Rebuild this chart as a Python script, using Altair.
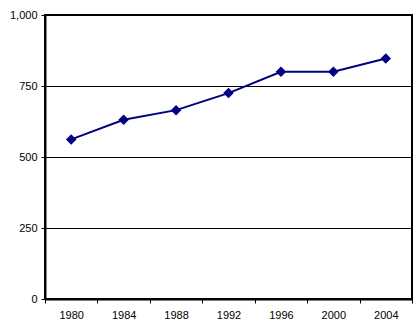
import altair as alt
import pandas as pd

years = ["1980", "1984", "1988", "1992", "1996", "2000", "2004"]
values = [562, 631, 665, 725, 800, 800, 847]

df = pd.DataFrame({"year": years, "value": values})

FONT = "Liberation Sans"

x = alt.X(
    "year:O",
    sort=years,
    bandPosition=0.5,
    scale=alt.Scale(type="band", paddingInner=0, paddingOuter=0),
    axis=alt.Axis(
        title=None,
        labelAngle=0,
        tickBand="extent",
        domainColor="black",
        domainWidth=2,
        tickColor="black",
        tickSize=4,
        tickWidth=1,
        labelColor="black",
        labelFont=FONT,
        labelFontSize=11,
        labelPadding=6,
        grid=False,
    ),
)
y = alt.Y(
    "value:Q",
    scale=alt.Scale(domain=[0, 1000], nice=False, zero=True),
    axis=alt.Axis(
        title=None,
        values=[0, 250, 500, 750, 1000],
        format=",.0f",
        domainColor="black",
        domainWidth=2,
        tickColor="black",
        tickSize=4,
        tickWidth=1,
        labelColor="black",
        labelFont=FONT,
        labelFontSize=11,
        labelPadding=4,
        grid=True,
        gridColor="black",
        gridWidth=1,
        gridOpacity=1,
    ),
)

line = alt.Chart(df).mark_line(color="#000080", strokeWidth=2).encode(x=x, y=y)
pts = alt.Chart(df).mark_point(
    shape="diamond", filled=True, color="#000080", size=110, opacity=1
).encode(x=x, y=y)

chart = (
    alt.layer(line, pts)
    .properties(
        width=367,
        height=284,
        autosize=alt.AutoSizeParams(type="none"),
        padding={"left": 45, "top": 15, "right": 8, "bottom": 32},
        background="white",
    )
    .configure_view(stroke="black", strokeWidth=2)
)

chart.save("out.html", embed_options={"renderer": "svg", "actions": False})
